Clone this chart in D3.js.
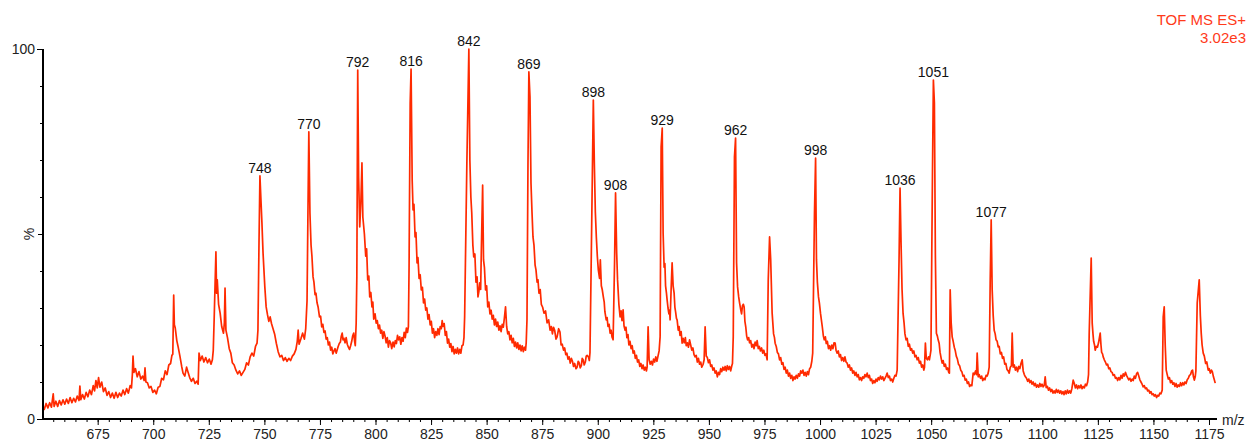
<!DOCTYPE html>
<html>
<head>
<meta charset="utf-8">
<script src="https://cdn.jsdelivr.net/npm/d3@7"></script>
<style>
  html, body { margin: 0; padding: 0; background: #fff; }
  svg { display: block; font-family: "Liberation Sans", Arial, sans-serif; }
</style>
</head>
<body>
<svg id="chart" width="1252" height="443"></svg>
<script>
// Continuous ES+ TOF spectrum: [m/z, relative intensity %]
const tracePoints = [
  [650.4,3.5],[651.0,2.6],[651.8,4.2],[652.6,3.0],[653.4,4.4],[654.2,3.2],[655.0,6.8],[655.4,3.4],
  [656.2,4.8],[657.0,3.4],[657.8,5.0],[658.6,3.8],[659.4,5.2],[660.2,4.0],[661.0,5.4],[661.8,4.2],
  [662.6,5.8],[663.4,4.4],[664.2,5.6],[665.0,4.6],[665.8,6.2],[666.6,5.0],[667.0,8.9],[667.4,5.2],
  [668.2,6.6],[669.0,5.4],[669.8,7.2],[670.6,6.0],[671.4,7.8],[672.2,6.6],[673.0,9.0],[673.6,7.6],
  [674.2,10.4],[674.8,8.4],[675.4,11.2],[676.0,8.6],[676.8,10.0],[677.6,7.4],[678.4,8.4],[679.2,6.4],
  [680.0,7.4],[680.8,5.8],[681.6,7.0],[682.4,5.6],[683.2,7.2],[684.0,5.8],[684.8,7.0],[685.6,6.2],
  [686.4,7.8],[687.2,6.6],[688.0,8.2],[688.8,7.0],[689.6,9.0],[690.2,8.4],[690.6,12.0],[690.9,17.0],
  [691.3,12.6],[692.0,13.6],[692.8,11.4],[693.6,12.8],[694.4,10.8],[695.2,11.6],[695.9,10.4],[696.3,13.8],
  [696.7,10.0],[697.4,9.8],[698.2,8.4],[699.0,8.8],[699.8,7.2],[700.6,7.8],[701.4,6.8],[702.2,8.6],
  [703.0,8.8],[703.8,11.0],[704.6,10.6],[705.4,13.0],[706.2,12.0],[707.0,14.6],[707.8,15.0],[708.4,17.2],
  [708.8,17.5],[709.2,33.5],[709.5,25.5],[709.9,24.6],[710.6,21.2],[711.2,19.5],[712.0,17.0],[712.8,14.2],
  [713.4,12.4],[714.2,11.6],[715.0,14.0],[715.6,12.8],[716.4,11.2],[717.2,10.2],[718.0,11.0],[718.8,9.6],
  [719.6,10.2],[720.2,9.4],[720.6,17.8],[721.2,15.8],[722.0,17.0],[722.8,15.4],[723.6,16.6],[724.4,15.2],
  [725.2,16.2],[726.0,14.8],[726.6,16.0],[727.0,18.5],[727.4,26.8],[728.2,45.2],[728.5,34.0],[728.8,37.6],
  [729.4,31.0],[730.1,28.6],[730.8,25.0],[731.6,23.2],[732.0,26.0],[732.3,35.4],[732.7,24.0],[733.4,22.0],
  [734.2,19.0],[734.9,17.8],[735.6,15.2],[736.4,14.6],[737.2,13.2],[738.0,12.2],[738.8,13.0],[739.6,11.8],
  [740.4,12.6],[741.2,13.4],[742.0,15.2],[742.8,14.6],[743.6,16.8],[744.4,17.8],[745.2,17.0],[746.0,19.6],
  [746.7,20.5],[747.1,24.0],[747.6,48.4],[748.4,60.0],[748.9,53.0],[749.4,44.9],[750.2,35.7],[750.8,30.3],
  [751.4,28.2],[752.0,26.4],[752.6,27.6],[753.2,25.8],[753.8,24.6],[754.6,23.0],[755.4,20.4],[756.2,18.2],
  [757.0,16.8],[757.8,17.2],[758.6,15.8],[759.4,16.6],[760.2,15.6],[761.0,16.4],[761.8,15.8],[762.6,17.0],
  [763.4,17.6],[764.2,18.8],[764.8,21.0],[765.2,24.0],[765.6,20.2],[766.4,21.6],[767.2,23.2],[768.0,21.6],
  [768.6,24.4],[769.2,32.0],[769.6,55.7],[770.5,55.7],[771.0,47.0],[771.4,44.0],[771.9,38.4],[772.3,37.0],
  [772.8,33.6],[773.2,34.0],[773.7,31.4],[774.2,30.2],[774.8,27.6],[775.3,27.8],[775.8,24.9],[776.3,25.6],
  [776.8,23.4],[777.3,23.8],[777.8,21.6],[778.3,22.0],[778.8,20.0],[779.3,20.8],[779.8,18.6],[780.3,19.4],
  [780.8,17.6],[781.3,18.4],[781.8,19.0],[782.3,17.8],[782.8,18.8],[783.2,19.6],[783.7,20.4],[784.2,20.8],
  [784.6,22.4],[785.0,23.2],[785.4,21.4],[785.8,21.8],[786.3,20.6],[786.8,22.0],[787.3,20.2],[787.8,19.4],
  [788.3,18.8],[788.8,19.8],[789.3,21.0],[789.7,22.4],[790.2,23.2],[790.6,21.0],[790.9,19.8],[791.3,25.9],
  [791.6,38.4],[792.4,65.4],[792.9,51.9],[793.4,58.4],[793.9,69.2],[794.3,54.6],[795.0,50.0],[795.6,44.0],
  [796.0,46.0],[796.5,37.6],[797.0,38.6],[797.4,33.0],[797.9,34.2],[798.4,30.3],[798.8,31.6],[799.2,27.0],
  [799.8,28.4],[800.3,25.9],[800.8,26.6],[801.3,24.4],[801.8,25.4],[802.3,23.2],[802.8,24.0],[803.3,21.8],
  [803.8,23.6],[804.3,22.4],[804.8,20.6],[805.3,22.0],[805.8,19.4],[806.3,21.2],[806.8,20.6],[807.3,19.0],
  [807.9,20.8],[808.4,19.5],[808.9,21.2],[809.4,20.4],[809.9,22.6],[810.4,21.4],[810.9,22.2],[811.4,20.2],
  [811.9,22.0],[812.4,21.0],[812.9,23.4],[813.4,22.0],[813.9,24.6],[814.4,23.4],[814.8,25.0],[815.1,41.0],
  [815.6,85.4],[816.5,64.6],[816.9,56.5],[817.3,58.0],[817.8,49.2],[818.2,50.4],[818.7,42.2],[819.1,43.6],
  [819.6,38.0],[820.1,39.0],[820.6,34.9],[821.1,35.6],[821.6,31.4],[822.1,32.4],[822.6,29.4],[823.1,30.0],
  [823.6,27.0],[824.1,28.2],[824.6,25.4],[825.1,26.4],[825.6,23.2],[826.1,24.4],[826.6,22.0],[827.1,23.6],
  [827.6,22.6],[828.1,24.4],[828.6,22.8],[829.1,25.0],[829.6,24.4],[830.0,26.6],[830.4,25.0],[830.9,25.8],
  [831.4,22.6],[831.9,23.6],[832.4,20.5],[832.9,21.6],[833.4,19.4],[833.9,20.4],[834.4,18.2],[834.9,19.6],
  [835.4,17.6],[835.9,18.8],[836.4,17.8],[836.9,19.2],[837.4,17.6],[837.9,18.8],[838.4,17.8],[838.9,19.8],
  [839.4,20.0],[839.8,22.0],[840.1,27.6],[841.1,69.2],[842.45,70.0],[842.9,60.0],[843.3,55.7],[843.8,47.0],
  [844.2,43.8],[844.7,44.6],[845.2,37.0],[845.7,38.4],[846.1,33.0],[846.5,34.4],[846.9,36.8],[847.3,35.0],
  [847.6,45.0],[848.2,63.2],[848.6,43.0],[849.0,41.0],[849.5,34.9],[850.0,36.0],[850.5,30.3],[851.0,31.6],
  [851.5,28.4],[852.0,29.4],[852.5,27.0],[853.0,28.0],[853.5,25.4],[854.0,27.0],[854.5,25.0],[855.0,26.2],
  [855.5,24.0],[856.0,25.2],[856.5,23.6],[857.0,25.6],[857.5,24.8],[858.0,27.4],[858.5,30.3],[859.0,25.0],
  [859.5,23.0],[860.0,23.6],[860.5,21.4],[861.0,22.6],[861.5,20.6],[862.0,21.8],[862.5,19.6],[863.0,20.8],
  [863.5,19.2],[864.0,20.6],[864.5,18.8],[865.0,20.0],[865.5,18.4],[866.0,19.8],[866.5,18.2],[867.0,19.4],
  [867.5,18.6],[867.8,20.6],[868.15,26.8],[868.6,69.2],[869.5,87.0],[869.95,63.8],[870.4,56.0],[870.85,49.2],
  [871.3,47.0],[871.8,41.6],[872.2,40.3],[872.7,37.0],[873.1,37.6],[873.55,34.0],[874.1,35.0],[874.6,31.0],
  [875.2,30.2],[875.8,28.6],[876.5,29.2],[877.2,26.0],[877.9,26.8],[878.55,24.0],[879.1,25.0],[879.6,23.0],
  [880.1,24.8],[880.6,24.0],[881.2,21.6],[881.7,22.2],[882.4,24.4],[883.0,23.5],[883.5,20.0],[884.0,20.2],
  [884.6,18.6],[885.1,19.2],[885.6,17.4],[886.1,17.8],[886.6,16.2],[887.1,16.8],[887.6,15.1],[888.1,16.4],
  [888.6,15.6],[889.1,14.2],[889.6,15.0],[890.2,13.6],[890.7,14.0],[891.2,15.6],[891.6,15.2],[892.1,13.8],
  [892.6,14.4],[893.0,16.4],[893.4,16.0],[893.9,14.6],[894.4,15.4],[894.8,17.0],[895.2,17.2],[895.8,16.8],
  [896.2,15.8],[896.5,18.0],[897.0,40.3],[898.45,69.2],[898.9,56.0],[899.35,49.2],[899.8,44.0],[900.25,40.3],
  [900.8,38.0],[901.15,43.0],[901.6,36.0],[902.0,35.0],[902.5,33.0],[902.9,31.6],[903.2,29.0],[903.8,26.8],
  [904.2,27.4],[904.6,25.0],[905.1,25.6],[905.55,23.2],[906.0,24.0],[906.4,22.2],[906.9,21.4],[907.55,42.2],
  [908.5,45.0],[908.9,37.6],[909.5,31.0],[910.05,27.6],[910.5,29.2],[910.9,26.6],[911.4,29.5],[911.8,25.2],
  [912.3,24.0],[912.7,24.8],[913.1,22.0],[913.6,22.8],[914.0,20.0],[914.5,21.0],[915.0,19.0],[915.5,19.8],
  [915.9,17.8],[916.4,18.4],[916.9,16.4],[917.4,17.2],[917.9,15.4],[918.4,16.0],[918.9,14.2],[919.4,15.0],
  [919.9,13.6],[920.4,14.6],[920.9,13.2],[921.4,14.0],[921.9,13.0],[922.2,14.0],[922.65,24.9],[923.1,16.0],
  [923.6,14.8],[924.1,15.6],[924.6,14.6],[925.1,16.2],[925.6,15.4],[926.1,16.8],[926.6,15.6],[927.1,17.0],
  [927.6,18.4],[928.05,22.2],[928.5,73.5],[929.4,50.3],[929.85,41.0],[930.2,42.0],[930.5,36.0],[930.9,34.0],
  [931.2,32.2],[931.6,30.0],[932.0,28.4],[932.3,29.4],[932.55,26.8],[933.0,35.0],[933.45,42.2],[933.9,36.0],
  [934.35,34.0],[934.7,30.2],[935.0,29.0],[935.4,27.2],[935.7,26.8],[936.2,24.0],[936.6,25.0],[937.0,22.6],
  [937.5,23.6],[937.95,20.5],[938.4,21.8],[938.9,20.6],[939.4,22.0],[939.8,19.8],[940.3,20.6],[940.8,19.4],
  [941.3,21.4],[941.8,20.0],[942.3,18.6],[942.8,19.2],[943.3,17.4],[943.8,16.8],[944.3,17.2],[944.8,15.4],
  [945.3,16.4],[945.8,14.8],[946.3,15.4],[946.8,14.0],[947.4,14.8],[947.85,16.0],[948.3,24.9],[948.8,17.0],
  [949.3,16.6],[949.8,15.2],[950.3,16.0],[950.8,14.2],[951.3,14.6],[951.8,13.2],[952.3,13.8],[952.8,12.4],
  [953.3,13.0],[953.8,11.4],[954.3,12.6],[954.8,12.0],[955.3,13.6],[955.8,12.8],[956.3,14.0],[956.8,13.2],
  [957.3,14.2],[957.8,13.0],[958.3,14.4],[958.8,13.4],[959.3,14.2],[959.8,13.0],[960.3,14.4],[960.6,15.0],
  [960.95,22.2],[961.5,70.8],[962.45,42.2],[962.9,35.7],[963.4,33.0],[963.8,31.4],[964.3,29.6],[964.7,28.4],
  [965.1,30.6],[965.5,31.0],[965.85,30.3],[966.2,26.4],[966.6,24.8],[967.0,22.4],[967.4,21.4],[967.9,22.0],
  [968.3,20.6],[968.8,21.2],[969.3,19.4],[969.8,20.2],[970.3,19.0],[970.8,20.8],[971.3,19.8],[971.7,21.2],
  [972.2,19.0],[972.7,19.6],[973.2,18.4],[973.7,19.2],[974.2,17.8],[974.7,18.6],[975.2,17.2],[975.7,17.6],
  [976.2,16.0],[976.7,37.6],[977.3,49.2],[977.8,43.0],[978.45,28.6],[979.1,23.0],[979.5,22.0],[979.8,20.5],
  [980.3,19.6],[980.8,18.0],[981.3,17.6],[981.8,16.0],[982.3,16.6],[982.8,14.8],[983.3,15.2],[983.8,13.4],
  [984.3,14.0],[984.8,12.4],[985.3,13.2],[985.8,11.6],[986.3,12.4],[986.8,11.0],[987.3,11.8],[987.8,10.4],
  [988.3,11.4],[988.8,10.8],[989.3,11.8],[989.8,11.0],[990.3,12.2],[990.8,11.6],[991.3,13.0],[991.8,12.4],
  [992.3,13.2],[992.8,11.8],[993.3,12.6],[993.8,11.6],[994.3,12.8],[994.8,12.0],[995.3,13.6],[995.8,14.0],
  [996.3,15.6],[996.7,17.8],[997.5,55.7],[998.4,43.0],[998.8,37.0],[999.3,33.0],[999.7,31.4],[1000.2,28.6],
  [1000.6,26.8],[1001.0,25.0],[1001.5,22.4],[1001.9,21.4],[1002.4,22.2],[1002.8,20.4],[1003.3,21.0],[1003.8,19.0],
  [1004.3,19.8],[1004.8,18.6],[1005.3,20.0],[1005.8,19.0],[1006.3,20.6],[1006.8,20.5],[1007.2,18.6],[1007.7,17.8],
  [1008.2,18.4],[1008.7,16.8],[1009.2,17.4],[1009.7,15.8],[1010.2,16.6],[1010.7,15.6],[1011.2,16.8],[1011.7,15.4],
  [1012.2,15.1],[1012.7,14.0],[1013.2,14.6],[1013.7,13.2],[1014.2,13.8],[1014.7,12.4],[1015.2,13.0],[1015.7,11.8],
  [1016.2,12.6],[1016.7,11.4],[1017.2,12.0],[1017.7,10.6],[1018.2,11.2],[1018.7,10.4],[1019.2,11.4],[1019.7,11.0],
  [1020.2,12.0],[1020.7,11.4],[1021.2,12.4],[1021.7,11.2],[1022.2,11.8],[1022.7,10.4],[1023.2,10.8],[1023.7,9.6],
  [1024.2,10.4],[1024.7,9.8],[1025.2,10.8],[1025.7,10.2],[1026.2,11.2],[1026.7,10.6],[1027.2,11.6],[1027.7,10.8],
  [1028.2,11.4],[1028.7,10.4],[1029.2,11.0],[1029.7,11.6],[1030.2,12.4],[1030.7,11.2],[1031.2,11.6],[1031.7,10.4],
  [1032.2,10.8],[1032.7,10.0],[1033.2,11.0],[1033.7,11.8],[1034.2,11.6],[1034.7,13.2],[1035.55,43.0],[1036.45,47.6],
  [1036.9,35.0],[1037.35,28.6],[1037.8,26.0],[1038.2,23.0],[1038.7,21.4],[1039.2,21.8],[1039.7,19.6],[1040.2,20.2],
  [1040.7,18.6],[1041.2,19.0],[1041.7,17.8],[1042.2,18.4],[1042.7,16.8],[1043.2,17.2],[1043.7,16.0],[1044.2,16.6],
  [1044.7,15.1],[1045.2,15.6],[1045.7,14.0],[1046.2,14.6],[1046.7,13.2],[1047.0,14.0],[1047.4,20.5],[1047.8,16.4],
  [1048.3,16.0],[1048.8,16.8],[1049.2,16.0],[1049.6,17.4],[1049.9,18.6],[1050.6,67.3],[1051.45,85.4],[1051.9,43.8],
  [1052.35,23.2],[1052.8,22.4],[1053.15,21.4],[1053.6,20.4],[1054.0,18.0],[1054.5,16.4],[1054.95,15.1],[1055.4,15.8],
  [1055.9,14.2],[1056.4,14.8],[1056.9,13.4],[1057.4,13.8],[1057.9,12.6],[1058.2,12.4],[1058.55,34.9],[1059.0,26.0],
  [1059.45,22.2],[1059.9,21.0],[1060.4,19.4],[1060.8,18.6],[1061.3,17.0],[1061.8,16.2],[1062.3,14.8],[1062.8,14.4],
  [1063.3,13.2],[1063.8,12.8],[1064.3,11.6],[1064.8,11.8],[1065.3,10.5],[1065.8,10.8],[1066.3,9.6],[1066.8,10.0],
  [1067.3,8.8],[1067.8,9.2],[1068.3,9.0],[1068.9,12.4],[1069.4,12.0],[1070.0,13.0],[1070.4,12.0],[1070.7,17.8],
  [1071.15,11.4],[1071.6,12.0],[1072.2,11.0],[1072.7,11.6],[1073.2,10.4],[1073.7,11.0],[1074.2,10.6],[1074.7,11.8],
  [1075.2,11.6],[1075.65,12.4],[1076.1,14.0],[1076.55,36.8],[1077.45,34.9],[1077.9,28.0],[1078.35,24.0],[1078.8,23.0],
  [1079.2,21.4],[1079.7,21.0],[1080.15,19.5],[1080.6,19.6],[1081.1,17.6],[1081.6,18.0],[1082.1,16.4],[1082.6,16.8],
  [1083.1,14.8],[1083.6,15.0],[1084.1,13.4],[1084.65,13.0],[1085.1,12.4],[1085.6,14.0],[1086.1,14.4],[1086.45,23.2],
  [1086.9,14.0],[1087.4,14.6],[1087.9,13.2],[1088.4,14.0],[1088.9,12.8],[1089.4,14.2],[1089.9,13.6],[1090.4,15.0],
  [1090.95,16.0],[1091.4,13.0],[1091.9,12.0],[1092.4,11.4],[1092.9,11.0],[1093.4,10.2],[1093.9,10.8],[1094.4,9.8],
  [1094.9,10.4],[1095.4,9.4],[1095.9,10.0],[1096.4,9.0],[1096.9,9.6],[1097.4,8.6],[1097.9,9.2],[1098.4,8.6],
  [1098.9,9.6],[1099.4,8.8],[1099.9,9.4],[1100.4,8.7],[1100.9,9.2],[1101.3,11.4],[1101.75,8.5],[1102.3,8.8],
  [1102.8,7.8],[1103.3,8.4],[1103.8,7.4],[1104.3,8.0],[1104.8,7.0],[1105.3,7.6],[1105.8,7.0],[1106.3,8.0],
  [1106.8,7.2],[1107.3,7.8],[1107.8,7.0],[1108.3,7.6],[1108.8,6.8],[1109.3,7.4],[1109.8,6.6],[1110.3,7.6],
  [1110.8,6.8],[1111.3,7.8],[1111.8,7.0],[1112.3,7.6],[1112.8,7.0],[1113.3,8.2],[1113.9,10.5],[1114.4,9.6],
  [1114.9,8.4],[1115.4,9.2],[1115.9,8.2],[1116.4,9.0],[1116.9,8.4],[1117.4,9.2],[1117.9,8.2],[1118.4,8.8],
  [1118.9,8.4],[1119.4,9.4],[1119.9,9.0],[1120.4,10.0],[1120.8,12.0],[1121.1,23.2],[1122.0,43.5],[1122.45,25.9],
  [1122.8,23.0],[1123.1,21.0],[1123.5,20.0],[1123.8,18.6],[1124.3,19.6],[1124.8,19.4],[1125.3,20.6],[1125.7,22.0],
  [1126.05,23.2],[1126.4,20.0],[1126.7,18.0],[1127.1,17.6],[1127.4,16.8],[1127.9,16.0],[1128.4,15.4],[1128.9,14.6],
  [1129.4,14.8],[1129.9,13.6],[1130.4,13.8],[1130.9,12.8],[1131.4,12.6],[1131.9,11.8],[1132.4,12.0],[1132.9,11.0],
  [1133.4,11.2],[1133.9,10.4],[1134.4,11.2],[1134.9,10.6],[1135.4,11.8],[1135.9,11.0],[1136.4,12.2],[1136.9,11.6],
  [1137.4,12.6],[1137.9,11.8],[1138.4,11.2],[1138.9,10.6],[1139.4,11.0],[1139.9,10.2],[1140.4,10.8],[1140.9,10.4],
  [1141.4,11.6],[1141.9,11.0],[1142.4,12.2],[1142.9,12.6],[1143.4,11.6],[1143.9,10.6],[1144.4,10.0],[1144.9,9.4],
  [1145.4,8.7],[1145.9,9.0],[1146.4,8.2],[1146.9,8.4],[1147.4,7.6],[1147.9,7.8],[1148.4,7.0],[1148.9,7.4],
  [1149.4,6.6],[1149.9,6.8],[1150.4,6.2],[1150.9,6.6],[1151.4,5.8],[1151.9,6.4],[1152.4,6.2],[1152.9,7.0],
  [1153.4,6.8],[1153.95,7.8],[1154.4,27.6],[1154.85,30.3],[1155.3,20.0],[1155.75,13.2],[1156.2,12.0],[1156.7,10.8],
  [1157.2,11.2],[1157.7,9.8],[1158.2,10.4],[1158.7,9.4],[1159.2,9.8],[1159.7,8.8],[1160.2,9.6],[1160.7,8.6],
  [1161.2,9.2],[1161.7,8.8],[1162.2,9.8],[1162.7,9.0],[1163.2,9.8],[1163.7,9.2],[1164.2,10.0],[1164.7,9.6],
  [1165.2,10.6],[1165.7,11.0],[1166.2,11.8],[1166.7,12.0],[1167.2,13.0],[1167.6,13.2],[1168.0,11.4],[1168.4,10.5],
  [1168.8,11.4],[1169.1,13.0],[1169.7,31.4],[1170.6,37.6],[1171.1,28.0],[1171.5,23.2],[1171.9,20.0],[1172.4,17.8],
  [1172.9,17.0],[1173.5,15.0],[1174.0,15.4],[1174.65,13.2],[1175.1,13.6],[1175.6,12.4],[1176.1,13.2],[1176.5,12.8],
  [1177.0,11.4],[1177.3,10.8],[1177.8,9.7]
];

// Annotated peak apexes (nominal m/z and relative intensity %)
const peakMz  = [748, 770, 792, 816, 842, 869, 898, 908, 929, 962, 998, 1036, 1051, 1077];
const peakPct = [65.7, 77.6, 94.3, 94.6, 100, 93.8, 86.2, 61.1, 78.6, 75.9, 70.5, 62.4, 91.6, 53.8];

const xTickLabels = [675, 700, 725, 750, 775, 800, 825, 850, 875, 900, 925, 950, 975,
                     1000, 1025, 1050, 1075, 1100, 1125, 1150, 1175];
const yTickLabels = [0, 100];
const headerLines = ["TOF MS ES+", "3.02e3"];
const xAxisTitle = "m/z";
const yAxisTitle = "%";

const traceColor = "#ff2a00";
const svg = d3.select("#chart");

const x = d3.scaleLinear().domain([650.4, 1178.6]).range([43, 1217]);
const y = d3.scaleLinear().domain([0, 100]).range([419, 49]);

// full profile = sampled trace plus the labelled apexes, in m/z order
const spectrum = tracePoints
  .concat(peakMz.map((m, i) => [m, peakPct[i]]))
  .sort((a, b) => a[0] - b[0]);

// spectrum trace
svg.append("path")
  .datum(spectrum)
  .attr("fill", "none")
  .attr("stroke", traceColor)
  .attr("stroke-width", 1.7)
  .attr("stroke-linejoin", "round")
  .attr("d", d3.line().x(d => x(d[0])).y(d => y(d[1])));

// x axis: minor ticks every 5, labelled ticks every 25
const xMinor = svg.append("g").attr("transform", "translate(0,419)")
  .call(d3.axisBottom(x).tickValues(d3.range(655, 1178, 5)).tickSize(3).tickFormat(""));
xMinor.select(".domain").remove();

const xMajor = svg.append("g").attr("transform", "translate(0,419)")
  .call(d3.axisBottom(x).tickValues(xTickLabels).tickSize(6).tickPadding(4).tickFormat(d3.format("d")));
xMajor.select(".domain").remove();
xMajor.selectAll("text").attr("font-size", 14).attr("fill", "#222")
  .attr("font-family", "'Liberation Sans', Arial, sans-serif");

// y axis: minor ticks every 10 %, longer ticks at 0/50/100
const yMinor = svg.append("g").attr("transform", "translate(43,0)")
  .call(d3.axisLeft(y).tickValues(d3.range(10, 100, 10)).tickSize(3).tickFormat(""));
yMinor.select(".domain").remove();

const yMajor = svg.append("g").attr("transform", "translate(43,0)")
  .call(d3.axisLeft(y).tickValues(yTickLabels).tickSize(6).tickPadding(2).tickFormat(d3.format("d")));
yMajor.select(".domain").remove();
yMajor.selectAll("text").attr("font-size", 14).attr("fill", "#222")
  .attr("font-family", "'Liberation Sans', Arial, sans-serif");

svg.append("g").attr("transform", "translate(43,0)")
  .call(d3.axisLeft(y).tickValues([50]).tickSize(5).tickFormat(""))
  .select(".domain").remove();

// axis lines
svg.append("line")
  .attr("x1", x.range()[0]).attr("x2", x.range()[0])
  .attr("y1", y(0) + 1).attr("y2", y(100))
  .attr("stroke", "#000").attr("stroke-width", 2);
svg.append("line")
  .attr("x1", x.range()[0] - 1).attr("x2", x.range()[1])
  .attr("y1", y(0)).attr("y2", y(0))
  .attr("stroke", "#000").attr("stroke-width", 2);

// axis titles
svg.append("text")
  .attr("x", x.range()[1] + 5).attr("y", y(0) + 6)
  .attr("font-size", 14).attr("fill", "#222")
  .text(xAxisTitle);
svg.append("text")
  .attr("transform", `translate(${x.range()[0] - 6},${y(50)}) rotate(-90)`)
  .attr("text-anchor", "middle").attr("dy", "-0.2em")
  .attr("font-size", 14).attr("fill", "#222")
  .text(yAxisTitle);

// peak annotations
svg.append("g").selectAll("text")
  .data(peakMz.map((m, i) => ({ mz: m, pct: peakPct[i] })))
  .join("text")
  .attr("x", d => x(d.mz))
  .attr("y", d => y(d.pct) - 3)
  .attr("text-anchor", "middle")
  .attr("font-size", 14)
  .attr("fill", "#111")
  .text(d => d.mz);

// instrument / scaling header
svg.append("g").selectAll("text")
  .data(headerLines)
  .join("text")
  .attr("x", 1246)
  .attr("y", (d, i) => 25 + i * 18)
  .attr("text-anchor", "end")
  .attr("font-size", 15)
  .attr("fill", "#ff3a1a")
  .text(d => d);
</script>
</body>
</html>
